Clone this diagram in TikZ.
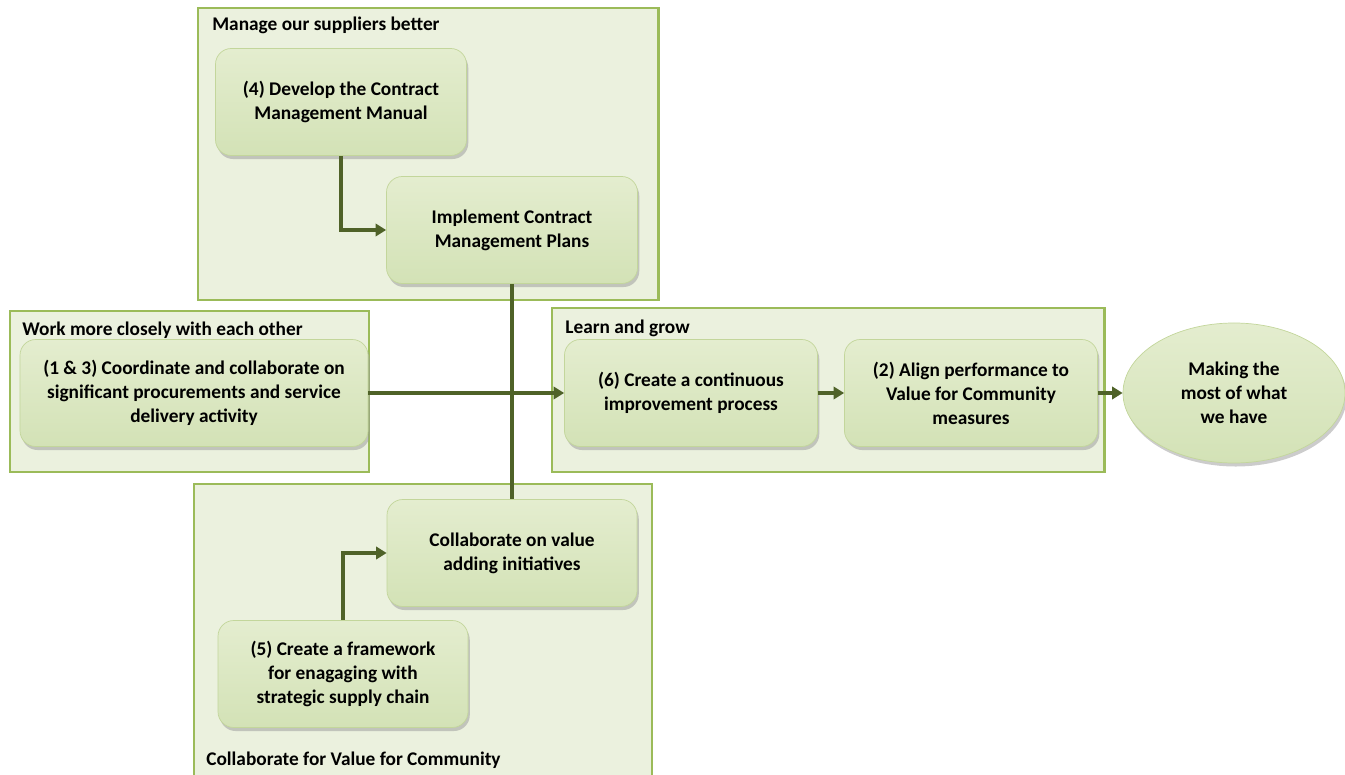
\documentclass[tikz,border=0pt]{standalone}
\usepackage{fontspec}
\setmainfont{Carlito}
\usetikzlibrary{shapes.geometric,shadows,arrows.meta}
\definecolor{grpfill}{HTML}{EBF1DE}
\definecolor{grpline}{HTML}{9BBB59}
\definecolor{stepfill}{HTML}{D3E2B6}
\definecolor{steptop}{HTML}{E4EDCF}
\definecolor{flowgreen}{HTML}{4F6228}
\begin{document}
\begin{tikzpicture}[x=0.2mm,y=-0.2mm,
    grpbox/.style={draw=grpline,fill=grpfill,line width=1.7pt},
    grplabel/.style={anchor=west,font=\fontsize{11pt}{13pt}\selectfont\bfseries,inner sep=0pt},
    stepbox/.style={rounded corners=9pt,top color=steptop,bottom color=stepfill,
      draw=grpline!60,line width=0.4pt,
      drop shadow={shadow xshift=1pt,shadow yshift=-2pt,fill=black!40},
      minimum width=5.02cm,minimum height=2.14cm,align=center,
      font=\fontsize{11pt}{13.6pt}\selectfont\bfseries},
    goalbox/.style={ellipse,top color=steptop,bottom color=stepfill,
      draw=grpline!60,line width=0.4pt,
      drop shadow={shadow xshift=1pt,shadow yshift=-2pt,fill=black!40},
      minimum width=4.44cm,minimum height=2.8cm,align=center,inner sep=0pt,
      font=\fontsize{11pt}{13.6pt}\selectfont\bfseries},
    flow/.style={draw=flowgreen,line width=2pt},
    flowarrow/.style={flow,-{Triangle[length=6pt,width=7pt]}}]
  \useasboundingbox (0,0) rectangle (1345,775);

  % group frames
  \draw[grpbox] (198,8) rectangle (658,300);
  \draw[grpbox] (10,311) rectangle (369,472);
  \draw[grpbox] (552,308) rectangle (1104,472);
  \draw[grpbox] (194,484) rectangle (652,778);

  \node[grplabel] (lblManage) at (212,25) {Manage our suppliers better};
  \node[grplabel] (lblWork) at (22,330) {Work more closely with each other};
  \node[grplabel] (lblLearn) at (565,328) {Learn and grow};
  \node[grplabel] (lblCollab) at (206,760) {Collaborate for Value for Community};

  % steps
  \node[stepbox] (manual) at (341,102) {(4) Develop the Contract\\Management Manual};
  \node[stepbox] (plans) at (512,230) {Implement Contract\\Management Plans};
  \node[stepbox,minimum width=6.96cm] (coord) at (194,393)
    {(1 \& 3) Coordinate and collaborate on\\significant procurements and service\\delivery activity};
  \node[stepbox,minimum width=5.06cm] (improve) at (691,393) {(6) Create a continuous\\improvement process};
  \node[stepbox,minimum width=5.06cm] (align) at (971,393) {(2) Align performance to\\Value for Community\\measures};
  \node[goalbox] (goal) at (1234,393) {Making the\\most of what\\we have};
  \node[stepbox,minimum width=5.0cm] (value) at (512,553) {Collaborate on value\\adding initiatives};
  \node[stepbox,minimum width=5.0cm] (frame) at (343,674)
    {(5) Create a framework\\for enagaging with\\strategic supply chain};

  % connectors
  \draw[flowarrow] (manual.south) |- (plans.west);
  \draw[flow] (plans.south) -- (value.north);
  \draw[flowarrow] (coord.east) -- (improve.west);
  \draw[flowarrow] (improve.east) -- (align.west);
  \draw[flowarrow] (align.east) -- (goal.west);
  \draw[flowarrow] (frame.north) |- (value.west);
\end{tikzpicture}
\end{document}
